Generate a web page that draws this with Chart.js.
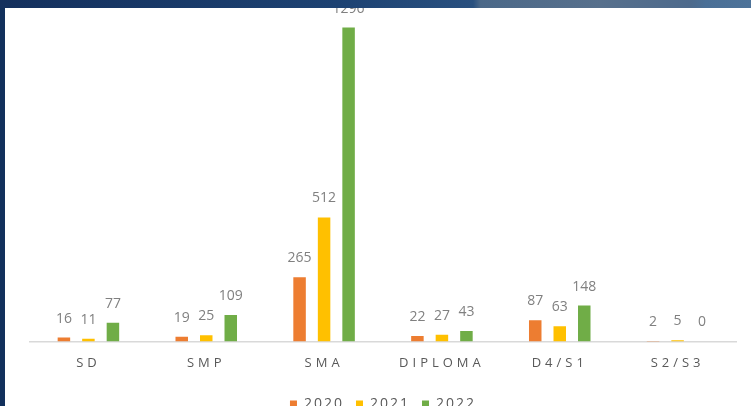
<!DOCTYPE html>
<html>
<head>
<meta charset="utf-8">
<script src="https://cdn.jsdelivr.net/npm/chart.js@4"></script>
<style>
  html, body { margin: 0; padding: 0; }
  body { width: 751px; height: 406px; overflow: hidden; position: relative; background: #12305c; }
  .panel { position: absolute; left: 5px; top: 8px; right: 0; bottom: 0; background: #fff; }
  .topbar { position: absolute; left: 0; top: 0; width: 751px; height: 8px; z-index: 3;
    background: linear-gradient(90deg, #14305d 0%, #1d4272 45%, #29507f 63%, #4b6888 64%, #57708c 80%, #4d6a8c 92%, #4a6f96 94%, #4d7399 100%); }
  .wrap { position: absolute; left: 0; top: 0; width: 751px; height: 421px; z-index: 2; }
</style>
</head>
<body>
<div class="panel"></div>
<div class="topbar"></div>
<div class="wrap"><canvas id="chart"></canvas></div>
<script>
const categories = ["SD", "SMP", "SMA", "DIPLOMA", "D4/S1", "S2/S3"];
const years = ["2020", "2021", "2022"];
const values2020 = [16, 19, 265, 22, 87, 2];
const values2021 = [11, 25, 512, 27, 63, 5];
const values2022 = [77, 109, 1296, 43, 148, 0];
const colors = ["#ED7D31", "#FFC000", "#70AD47"];

const FONT = "'Open Sans', 'Liberation Sans', sans-serif";

// value labels above each bar
const valueLabels = {
  id: "valueLabels",
  afterDatasetsDraw(chart) {
    const ctx = chart.ctx;
    ctx.save();
    ctx.letterSpacing = "0px";
    ctx.font = "14px " + FONT;
    ctx.fillStyle = "#808080";
    ctx.textAlign = "center";
    ctx.textBaseline = "middle";
    chart.data.datasets.forEach((ds, i) => {
      chart.getDatasetMeta(i).data.forEach((bar, j) => {
        ctx.fillText(String(ds.data[j]), bar.x, bar.y - 19);
      });
    });
    ctx.restore();
  }
};

// legend slightly spaced, x tick labels widely spaced (they are drawn after the bars)
const spacing = {
  id: "spacing",
  beforeLayout(chart) { chart.ctx.letterSpacing = "2px"; },
  afterLayout(chart) { chart.ctx.letterSpacing = "0px"; },
  beforeDraw(chart) { chart.ctx.letterSpacing = "2px"; },
  beforeDatasetsDraw(chart) { chart.ctx.letterSpacing = "0px"; },
  afterDatasetsDraw(chart) { chart.ctx.letterSpacing = "4px"; },
  afterDraw(chart) { chart.ctx.letterSpacing = "0px"; }
};

new Chart(document.getElementById("chart"), {
  type: "bar",
  data: {
    labels: categories,
    datasets: [
      { label: years[0], data: values2020, backgroundColor: colors[0] },
      { label: years[1], data: values2021, backgroundColor: colors[1] },
      { label: years[2], data: values2022, backgroundColor: colors[2] }
    ]
  },
  options: {
    responsive: true,
    maintainAspectRatio: false,
    animation: false,
    layout: { padding: { left: 29.5, right: 14.5, top: 0, bottom: 0 } },
    datasets: { bar: { categoryPercentage: 0.624, barPercentage: 0.51 } },
    plugins: {
      tooltip: { enabled: false },
      legend: {
        position: "bottom",
        labels: { boxWidth: 7, boxHeight: 7, padding: 12, color: "#595959", font: { size: 14, family: FONT } }
      }
    },
    scales: {
      x: {
        grid: { display: false, drawTicks: false },
        border: { display: true, color: "#d9d9d9", width: 1.5 },
        ticks: { z: 1, color: "#595959", padding: 14, font: { size: 13, family: FONT } }
      },
      y: { display: false, min: 0, max: 1410 }
    }
  },
  plugins: [valueLabels, spacing]
});
</script>
</body>
</html>
